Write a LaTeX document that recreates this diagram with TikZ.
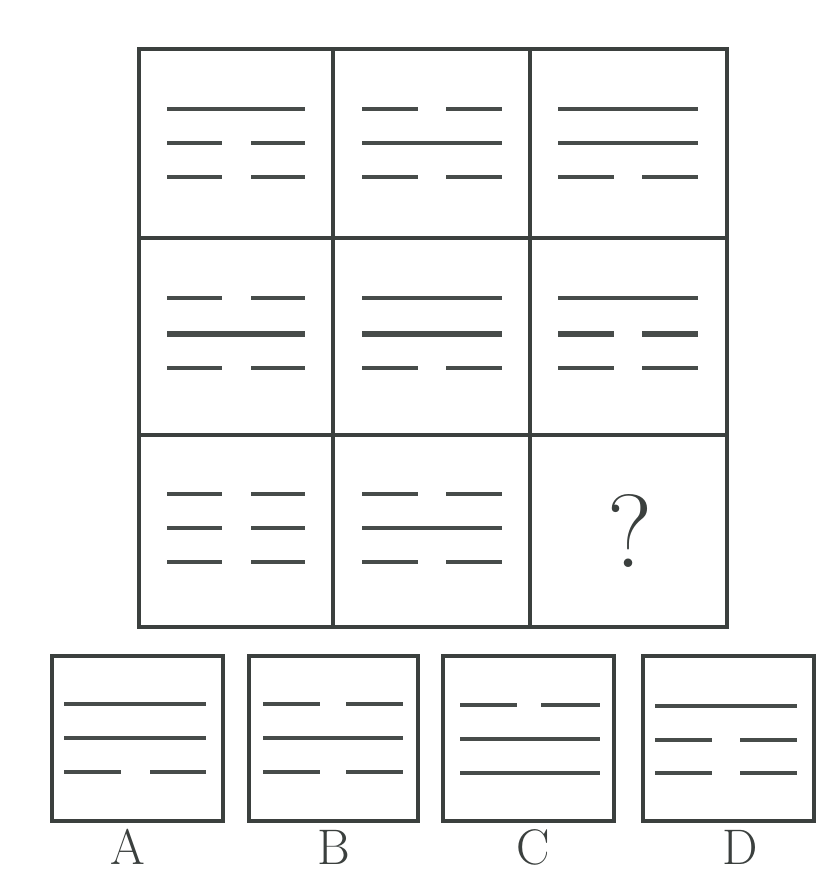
\documentclass[tikz,border=0pt]{standalone}
\usepackage{tikz}
\usepackage{xcolor}
\definecolor{frameink}{HTML}{3B403E}
\definecolor{barink}{HTML}{474C4A}

\begin{document}
\begin{tikzpicture}[x=1pt,y=-1pt,
		gridline/.style={line width=3.5pt,frameink},
		stroke/.style={line width=4pt,barink},
		heavystroke/.style={line width=6.5pt,barink},
		choicebox/.style={line width=4.5pt,frameink},
		letter/.style={font=\fontsize{50}{50}\selectfont,text=frameink}]
			
			\useasboundingbox[fill=white] (0,0) rectangle (832,873);
			
			% 3x3 grid
			\draw[gridline] (139,49) rectangle (727,627);
			\draw[gridline] (333,49) -- (333,627);
			\draw[gridline] (530,49) -- (530,627);
			\draw[gridline] (139,238) -- (727,238);
			\draw[gridline] (139,435) -- (727,435);
			
			% row 1
			\draw[stroke] (167,109) -- (305,109) (167,143) -- (222,143) (251,143) -- (305,143) (167,177) -- (222,177) (251,177) -- (305,177);
			\draw[stroke] (362,109) -- (418,109) (446,109) -- (502,109) (362,143) -- (502,143) (362,177) -- (418,177) (446,177) -- (502,177);
			\draw[stroke] (558,109) -- (698,109) (558,143) -- (698,143) (558,177) -- (614,177) (642,177) -- (698,177);
			
			% row 2
			\draw[stroke] (167,298) -- (222,298) (251,298) -- (305,298) (167,368) -- (222,368) (251,368) -- (305,368);
			\draw[heavystroke] (167,334) -- (305,334);
			\draw[stroke] (362,298) -- (502,298) (362,368) -- (418,368) (446,368) -- (502,368);
			\draw[heavystroke] (362,334) -- (502,334);
			\draw[stroke] (558,298) -- (698,298) (558,368) -- (614,368) (642,368) -- (698,368);
			\draw[heavystroke] (558,334) -- (614,334) (642,334) -- (698,334);
			
			% row 3
			\draw[stroke] (167,494) -- (222,494) (251,494) -- (305,494) (167,528) -- (222,528) (251,528) -- (305,528) (167,562) -- (222,562) (251,562) -- (305,562);
			\draw[stroke] (362,494) -- (418,494) (446,494) -- (502,494) (362,528) -- (502,528) (362,562) -- (418,562) (446,562) -- (502,562);
			\node[font=\fontsize{104}{104}\selectfont,text=frameink] (missing) at (630,531) {?};
			
			% answer choices
			\draw[choicebox] (52,656) rectangle (223,821);
			\draw[stroke] (64,704) -- (206,704) (64,738) -- (206,738) (64,772) -- (121,772) (150,772) -- (206,772);
			
			\draw[choicebox] (249,656) rectangle (418,821);
			\draw[stroke] (263,704) -- (320,704) (346,704) -- (403,704) (263,738) -- (403,738) (263,772) -- (320,772) (346,772) -- (403,772);
			
			\draw[choicebox] (443,656) rectangle (614,821);
			\draw[stroke] (460,705) -- (517,705) (541,705) -- (600,705) (460,739) -- (600,739) (460,773) -- (600,773);
			
			\draw[choicebox] (643,656) rectangle (814,821);
			\draw[stroke] (655,706) -- (797,706) (655,740) -- (712,740) (740,740) -- (797,740) (655,773) -- (712,773) (740,773) -- (797,773);
			
			% labels
			\node[letter] (labA) at (128,847) {A};
			\node[letter] (labB) at (334,847) {B};
			\node[letter] (labC) at (533,847) {C};
			\node[letter] (labD) at (740,847) {D};
			
		\end{tikzpicture}
\end{document}
